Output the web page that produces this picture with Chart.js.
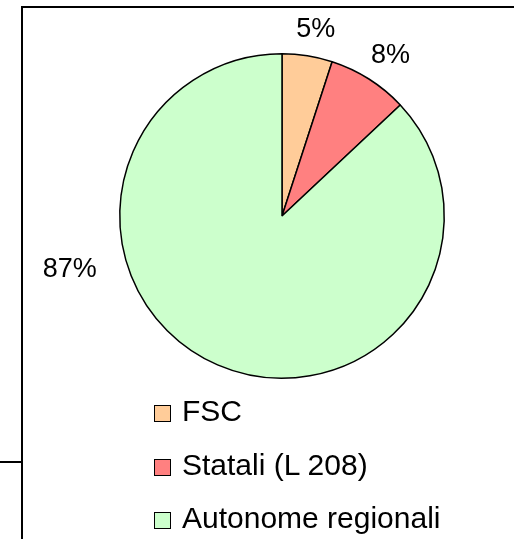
<!DOCTYPE html>
<html>
<head>
<meta charset="utf-8">
<script src="https://cdn.jsdelivr.net/npm/chart.js@4"></script>
<style>
    html, body { margin: 0; padding: 0; background: #fff; }
    #wrap { position: relative; width: 514px; height: 539px; overflow: hidden; font-family: "Liberation Sans", Arial, sans-serif; }
    #pieChart { position: absolute; left: 0; top: 0; }
    .frame-top { position: absolute; left: 21px; top: 6px; width: 493px; height: 2px; background: #000; }
    .frame-left { position: absolute; left: 21px; top: 6px; width: 2px; height: 533px; background: #000; }
    .frame-tick { position: absolute; left: 0; top: 461px; width: 22px; height: 2px; background: #000; }
    #legend { position: absolute; left: 154px; top: 384px; margin: 0; padding: 0; list-style: none; }
    #legend li { height: 53.5px; line-height: 53.5px; font-size: 30px; color: #000; white-space: nowrap; }
    #legend span.box { display: inline-block; width: 15px; height: 15px; border: 1px solid #000; margin-right: 11px; vertical-align: -1px; }
</style>
</head>
<body>
<div id="wrap">
    <canvas id="pieChart" width="514" height="539"></canvas>
    <div class="frame-top"></div>
    <div class="frame-left"></div>
    <div class="frame-tick"></div>
    <ul id="legend"></ul>
</div>
<script>
// Chart data
const categories = ['FSC', 'Statali (L 208)', 'Autonome regionali'];
const shares = [5, 8, 87];
const sliceColors = ['#FFCC99', '#FF8080', '#CCFFCC'];

// Draw percentage labels outside the slices
const outsideLabels = {
    id: 'outsideLabels',
    afterDatasetsDraw(chart) {
        const ctx = chart.ctx;
        const meta = chart.getDatasetMeta(0);
        ctx.save();
        ctx.font = '27px "Liberation Sans", Arial, sans-serif';
        ctx.fillStyle = '#000';
        ctx.textBaseline = 'middle';
        meta.data.forEach((arc, i) => {
            const text = shares[i] + '%';
            const w = ctx.measureText(text).width;
            const r = arc.outerRadius;
            if (shares[i] > 50) {
                // big slice: label sits on the left side, like the original
                ctx.textAlign = 'right';
                ctx.fillText(text, arc.x - r - 23, arc.y + 54);
                return;
            }
            const mid = (arc.startAngle + arc.endAngle) / 2;
            const dx = Math.cos(mid), dy = Math.sin(mid);
            const x = arc.x + dx * (r + 15) + dx * w / 2;
            const y = arc.y + dy * (r + 15) + dy * 10;
            ctx.textAlign = 'center';
            ctx.fillText(text, x + 3, y - 2);
        });
        ctx.restore();
    }
};

const ctx = document.getElementById('pieChart').getContext('2d');
new Chart(ctx, {
    type: 'pie',
    data: {
        labels: categories,
        datasets: [{
            data: shares,
            backgroundColor: sliceColors,
            borderColor: '#000',
            borderWidth: 1.5
        }]
    },
    options: {
        responsive: false,
        animation: false,
        events: [],
        layout: {
            padding: { left: 119, right: 69, top: 53, bottom: 160 }
        },
        plugins: {
            legend: { display: false },
            tooltip: { enabled: false }
        }
    },
    plugins: [outsideLabels]
});

// Legend
const legend = document.getElementById('legend');
categories.forEach((name, i) => {
    const li = document.createElement('li');
    const box = document.createElement('span');
    box.className = 'box';
    box.style.background = sliceColors[i];
    li.appendChild(box);
    li.appendChild(document.createTextNode(name));
    legend.appendChild(li);
});
</script>
</body>
</html>
